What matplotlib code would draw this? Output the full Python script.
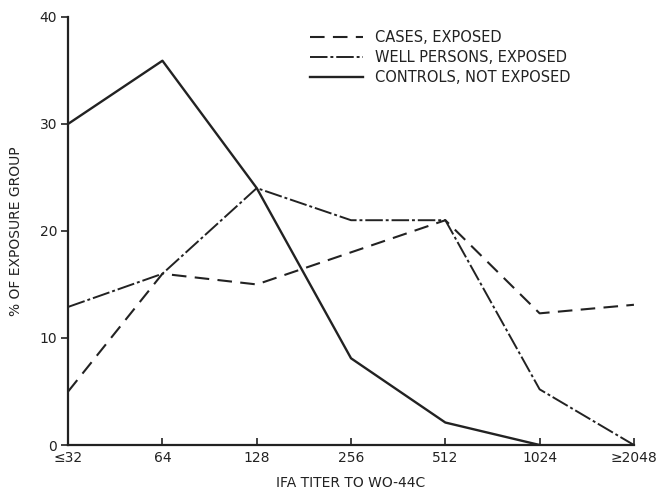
import matplotlib
matplotlib.use("Agg")
import matplotlib.pyplot as plt

# titer categories and % of exposure group
titers = ["≤32", "64", "128", "256", "512", "1024", "≥2048"]
cases_exposed = [5, 16, 15, 18, 21, 12.3, 13.1]
well_exposed = [12.9, 16, 24, 21, 21, 5.2, 0]
controls = [30, 35.9, 24, 8.1, 2.1, 0]

ink = "#222222"
plt.rcParams['font.family'] = ['DejaVu Sans']

fig = plt.figure(figsize=(6.68, 4.95), dpi=100)
ax = fig.add_axes([0.102, 0.101, 0.847, 0.865])

x_all = list(range(len(titers)))
ax.plot(x_all, cases_exposed, color=ink, lw=1.5, dashes=(7, 4),
        label="CASES, EXPOSED")
ax.plot(x_all, well_exposed, color=ink, lw=1.4, dashes=(9, 1.5, 1.5, 1.5),
        label="WELL PERSONS, EXPOSED")
ax.plot(x_all[:len(controls)], controls, color=ink, lw=1.7,
        label="CONTROLS, NOT EXPOSED")

ax.set_xlim(0, 6)
ax.set_ylim(0, 40)
ax.set_xticks(x_all)
ax.set_xticklabels(titers)
ax.set_yticks([0, 10, 20, 30, 40])

for s in ["top", "right"]:
    ax.spines[s].set_visible(False)
for s in ["left", "bottom"]:
    ax.spines[s].set_color(ink)
    ax.spines[s].set_linewidth(1.6)

ax.tick_params(axis="x", direction="in", length=5, width=1.2, colors=ink,
               labelsize=10, pad=4)
ax.tick_params(axis="y", direction="out", length=5, width=1.2, colors=ink,
               labelsize=10, pad=3)

ax.set_xlabel("IFA TITER TO WO-44C", fontsize=10, color=ink, labelpad=8)
ax.set_ylabel("% OF EXPOSURE GROUP", fontsize=10, color=ink, labelpad=12)

leg = ax.legend(loc="upper left", bbox_to_anchor=(0.405, 1.0), frameon=False,
                fontsize=10.5, handlelength=3.6, handletextpad=0.8,
                labelspacing=0.35, labelcolor=ink)

fig.savefig("out.png", dpi=100, facecolor="white")
